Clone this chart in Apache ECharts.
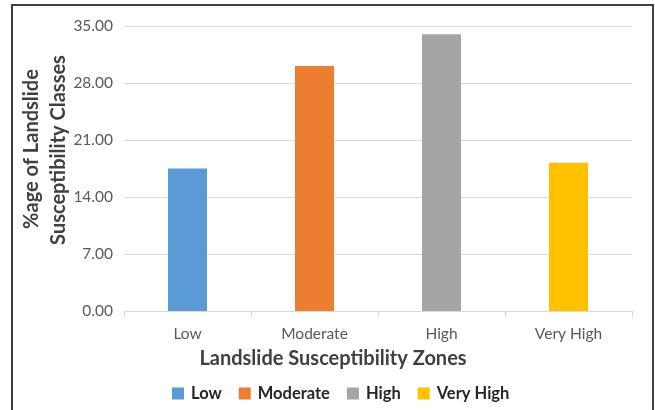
<!DOCTYPE html>
<html>
<head>
<meta charset="utf-8">
<script src="https://cdn.jsdelivr.net/npm/echarts@6/dist/echarts.min.js"></script>
<style>
  html, body { margin: 0; padding: 0; background: #ffffff; }
  #chart { width: 655px; height: 410px; }
</style>
</head>
<body>
<div id="chart"></div>
<script>
// Susceptibility zones and the share of area in each class (%)
const zones = ['Low', 'Moderate', 'High', 'Very High'];
const percentages = [17.5, 30.1, 34.0, 18.2];
const zoneColors = ['#5b9bd5', '#ed7d31', '#a5a5a5', '#ffc000'];
const yTicks = { min: 0, max: 35, step: 7 };

const FONT = 'Lato, "Open Sans", sans-serif';

// One series per zone so each gets its own legend entry; stacking keeps bars centred
const series = zones.map((name, i) => ({
  name: name,
  type: 'bar',
  stack: 'zones',
  barWidth: 39,
  itemStyle: { color: zoneColors[i] },
  data: zones.map((_, j) => (j === i ? percentages[i] : null))
}));

const chart = echarts.init(document.getElementById('chart'), null, { renderer: 'canvas' });
chart.setOption({
  animation: false,
  backgroundColor: '#ffffff',
  textStyle: { fontFamily: FONT },
  grid: { left: 124, right: 23, top: 26, bottom: 99, containLabel: false },
  xAxis: {
    type: 'category',
    data: zones,
    axisLine: { lineStyle: { color: '#d9d9d9', width: 1 } },
    axisTick: { show: true, length: 6, lineStyle: { color: '#d9d9d9' } },
    axisLabel: { color: '#595959', fontSize: 15.5, margin: 15, fontFamily: FONT }
  },
  yAxis: {
    type: 'value',
    min: yTicks.min,
    max: yTicks.max,
    interval: yTicks.step,
    axisLine: { show: false },
    axisTick: { show: false },
    splitLine: { lineStyle: { color: '#d9d9d9', width: 1 } },
    axisLabel: {
      color: '#595959', fontSize: 15.5, margin: 11, fontFamily: FONT,
      formatter: v => v.toFixed(2)
    }
  },
  legend: {
    data: zones,
    top: 380,
    left: 167,
    icon: 'rect',
    itemWidth: 12,
    itemHeight: 12,
    itemGap: 17,
    textStyle: { color: '#262626', fontSize: 16.5, fontWeight: 'bold', fontFamily: FONT, padding: [0, 0, 0, 2] }
  },
  graphic: [
    {
      type: 'rect',
      shape: { x: 12, y: 5, width: 641, height: 420 },
      style: { fill: 'none', stroke: '#404040', lineWidth: 2 },
      silent: true
    },
    {
      type: 'text',
      x: 32, y: 149,
      rotation: Math.PI / 2,
      style: {
        text: '%age of Landslide',
        fill: '#404040',
        font: 'bold 20px ' + FONT,
        textAlign: 'center',
        textVerticalAlign: 'middle'
      }
    },
    {
      type: 'text',
      x: 59, y: 150,
      rotation: Math.PI / 2,
      style: {
        text: 'Susceptibility Classes',
        fill: '#404040',
        font: 'bold 20px ' + FONT,
        textAlign: 'center',
        textVerticalAlign: 'middle'
      }
    },
    {
      type: 'text',
      x: 333, y: 359,
      style: {
        text: 'Landslide Susceptibility Zones',
        fill: '#404040',
        font: 'bold 20px ' + FONT,
        textAlign: 'center',
        textVerticalAlign: 'middle'
      }
    }
  ],
  series: series
});
</script>
</body>
</html>
